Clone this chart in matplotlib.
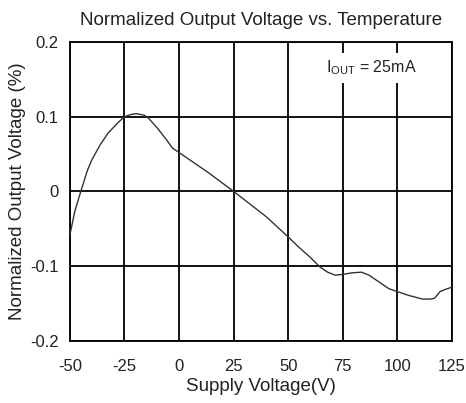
import matplotlib
matplotlib.use("Agg")
import matplotlib.pyplot as plt

plt.rcParams.update({
    "font.family": "Liberation Sans",
    "mathtext.default": "regular",
})

# temperature sweep (deg C) and normalized output deviation (%)
temps = [-50, -47.7, -45, -42, -40, -36, -32.5, -28, -25, -22, -19.5, -16, -14,
         -10, -6, -3, 0, 7, 13, 25, 40, 50, 55, 60, 64.5, 68, 71.5, 75, 79,
         83.5, 87, 92, 96, 100, 105, 111.5, 115, 117, 119.5, 122, 125]
vout_pct = [-0.058, -0.026, 0.0, 0.028, 0.042, 0.063, 0.078, 0.092, 0.100,
            0.103, 0.104, 0.102, 0.098, 0.085, 0.070, 0.058, 0.052, 0.038,
            0.026, 0.0, -0.034, -0.061, -0.075, -0.088, -0.101, -0.108,
            -0.112, -0.111, -0.109, -0.108, -0.112, -0.122, -0.130, -0.134,
            -0.139, -0.144, -0.144, -0.143, -0.134, -0.131, -0.128]

xticks = [-50, -25, 0, 25, 50, 75, 100, 125]
yticks = [-0.2, -0.1, 0, 0.1, 0.2]
ytick_labels = ["-0.2", "-0.1", "0", "0.1", "0.2"]

txt = "#222222"

fig = plt.figure(figsize=(4.66, 4.03), dpi=100)
ax = fig.add_axes([0.150, 0.154, 0.820, 0.742])

ax.plot(temps, vout_pct, color="#333333", linewidth=1.0, zorder=3)

ax.set_xlim(-50, 125)
ax.set_ylim(-0.2, 0.2)
ax.set_xticks(xticks)
ax.set_xticklabels([str(t) for t in xticks])
ax.set_yticks(yticks)
ax.set_yticklabels(ytick_labels)
ax.tick_params(length=0, labelsize=12, colors=txt)
ax.tick_params(axis="x", pad=13)
ax.tick_params(axis="y", pad=8)

ax.grid(True, color="black", linewidth=1.3)
for s in ax.spines.values():
    s.set_linewidth(1.3)

ax.set_title("Normalized Output Voltage vs. Temperature", fontsize=13.5,
             pad=12, color=txt)
ax.set_xlabel("Supply Voltage(V)", fontsize=13.5, labelpad=3, color=txt)
ax.set_ylabel("Normalized Output Voltage (%)", fontsize=13.5, labelpad=3,
              color=txt)

ax.text(0.79, 0.913, "I$_{OUT}$ = 25mA", transform=ax.transAxes,
        ha="center", va="center", fontsize=11.5, color=txt,
        bbox=dict(facecolor="white", edgecolor="none", pad=4), zorder=4)

fig.savefig("out.png", dpi=100)
